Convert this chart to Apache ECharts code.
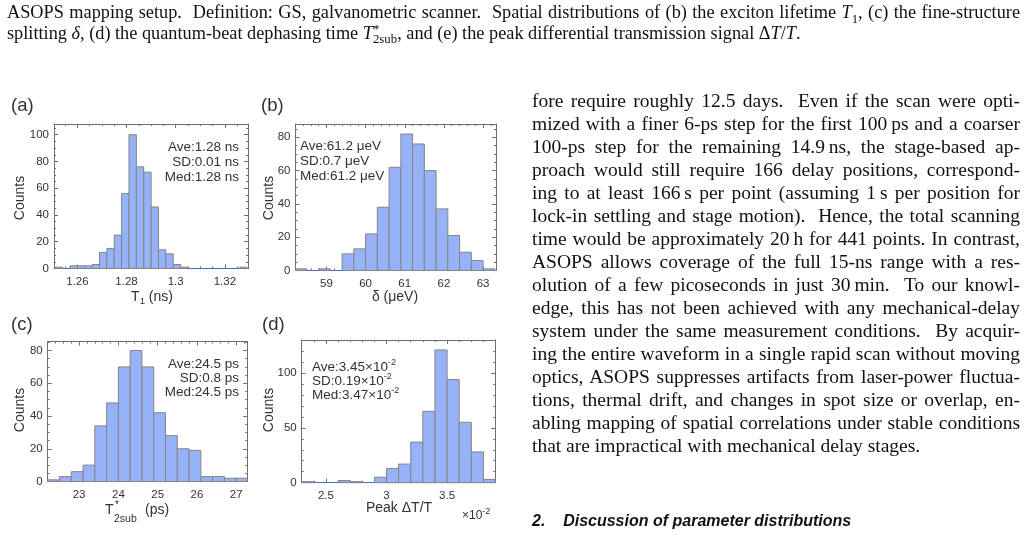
<!DOCTYPE html>
<html lang="en">
<head>
<meta charset="UTF-8"/>
<title>Parameter distributions</title>
<script src="https://cdn.jsdelivr.net/npm/echarts@6/dist/echarts.min.js"></script>
<style>
    body { margin: 0; background: #fff; }
    #page { position: relative; width: 1029px; height: 537px; overflow: hidden; background: #fff; }
    #main { position: absolute; left: 0; top: 0; width: 1029px; height: 537px; }
    .serif { font-family: "Liberation Serif", "Times New Roman", serif; color: #111; }
    .cap { position: absolute; left: 7px; width: 1013px; font-size: 18.3px; line-height: 21px; white-space: nowrap; }
    .cap.j { text-align: justify; text-align-last: justify; }
    #body { position: absolute; left: 532px; top: 89px; width: 488px; font-size: 19.5px; line-height: 23px; }
    #body div { text-align: justify; text-align-last: justify; white-space: nowrap; }
    #body div.last { text-align-last: left; }
    #sec { position: absolute; left: 532px; top: 512px; font-family: "Liberation Sans", Arial, sans-serif;
           font-weight: bold; font-style: italic; font-size: 16px; color: #111; white-space: pre; }
    .ss { display: inline-block; vertical-align: -0.35em; line-height: 0.8em; font-size: 0.7em; text-align: left; }
</style>
</head>
<body>
<div id="page">
    <div id="main"></div>

    <div class="serif cap j" style="top:2px;">ASOPS mapping setup.&nbsp; Definition: GS, galvanometric scanner.&nbsp; Spatial distributions of (b) the exciton lifetime <i>T</i><sub style="font-size:0.7em">1</sub>, (c) the fine-structure</div>
    <div class="serif cap" style="top:23px;">splitting <i>δ</i>, (d) the quantum-beat dephasing time <i>T</i><span class="ss">*<br/>2sub</span>, and (e) the peak differential transmission signal Δ<i>T</i>/<i>T</i>.</div>

    <div id="body" class="serif">
        <div>fore require roughly 12.5 days.&nbsp; Even if the scan were opti-</div>
        <div>mized with a finer 6-ps step for the first 100&#8201;ps and a coarser</div>
        <div>100-ps step for the remaining 14.9&#8201;ns, the stage-based ap-</div>
        <div>proach would still require 166 delay positions, correspond-</div>
        <div>ing to at least 166&#8201;s per point (assuming 1&#8201;s per position for</div>
        <div>lock-in settling and stage motion).&nbsp; Hence, the total scanning</div>
        <div>time would be approximately 20&#8201;h for 441 points. In contrast,</div>
        <div>ASOPS allows coverage of the full 15-ns range with a res-</div>
        <div>olution of a few picoseconds in just 30&#8201;min.&nbsp; To our knowl-</div>
        <div>edge, this has not been achieved with any mechanical-delay</div>
        <div>system under the same measurement conditions.&nbsp; By acquir-</div>
        <div>ing the entire waveform in a single rapid scan without moving</div>
        <div>optics, ASOPS suppresses artifacts from laser-power fluctua-</div>
        <div>tions, thermal drift, and changes in spot size or overlap, en-</div>
        <div>abling mapping of spatial correlations under stable conditions</div>
        <div class="last">that are impractical with mechanical delay stages.</div>
    </div>

    <div id="sec">2.    Discussion of parameter distributions</div>
</div>

<script type="text/javascript">

    // (a) exciton lifetime T1 (ns): bin left edges and counts
    var binsA = [1.251, 1.254, 1.257, 1.260, 1.263, 1.266, 1.269, 1.272, 1.275, 1.278, 1.281, 1.284, 1.287,
                 1.290, 1.293, 1.296, 1.299, 1.302, 1.305, 1.308, 1.311, 1.314, 1.317, 1.320, 1.323, 1.326];
    var countsA = [1, 0, 2, 2, 2, 3, 12, 15, 25, 56, 100, 76, 72, 46, 14, 11, 3, 1, 0, 0, 0, 0, 0, 0, 0, 1];
    var widthA = 0.003;
    var ticksAx = [1.26, 1.28, 1.30, 1.32];
    var labelsAx = ['1.26', '1.28', '1.3', '1.32'];
    var ticksAy = [0, 20, 40, 60, 80, 100];

    // (b) fine-structure splitting delta (ueV)
    var binsB = [58.2, 58.5, 58.8, 59.1, 59.4, 59.7, 60.0, 60.3, 60.6, 60.9, 61.2, 61.5, 61.8, 62.1, 62.4, 62.7, 63.0];
    var countsB = [1, 0, 1, 0, 10, 13, 22, 38, 62, 82, 76, 60, 37, 21, 11, 6, 1];
    var widthB = 0.3;
    var ticksBx = [59, 60, 61, 62, 63];
    var ticksBy = [0, 20, 40, 60, 80];

    // (c) dephasing time T2sub* (ps)
    var binsC = [22.2, 22.5, 22.8, 23.1, 23.4, 23.7, 24.0, 24.3, 24.6, 24.9, 25.2, 25.5, 25.8, 26.1, 26.4, 26.7, 27.0];
    var countsC = [1, 3, 6, 10, 34, 48, 70, 80, 70, 42, 28, 20, 19, 3, 3, 2, 2];
    var widthC = 0.3;
    var ticksCx = [23, 24, 25, 26, 27];
    var ticksCy = [0, 20, 40, 60, 80];

    // (d) peak dT/T (x 10^-2)
    var binsD = [2.3, 2.4, 2.5, 2.6, 2.7, 2.8, 2.9, 3.0, 3.1, 3.2, 3.3, 3.4, 3.5, 3.6, 3.7, 3.8];
    var countsD = [1, 0, 0, 2, 1, 0, 5, 13, 17, 37, 65, 121, 94, 55, 28, 3];
    var widthD = 0.1;
    var ticksDx = [2.5, 3, 3.5];
    var labelsDx = ['2.5', '3', '3.5'];
    var ticksDy = [0, 50, 100];

    var font = '"Liberation Sans", Arial, sans-serif';
    var frameColor = '#6f6f6f';
    var baseColor = '#4a69d2';
    var barFill = '#96b2f8';
    var barEdge = '#858585';
    var textColor = '#333';

    var panels = [
        { grid: [54, 124, 194, 144.5], x: [1.2505, 1.3294], y: [0, 108], xTicks: ticksAx, xLabels: labelsAx, xMinor: 0.005,
          yTicks: ticksAy, yMinor: 5, bins: binsA, counts: countsA, w: widthA },
        { grid: [295.5, 124, 200.5, 146.5], x: [58.21, 63.33], y: [0, 88], xTicks: ticksBx, xMinor: 0.2,
          yTicks: ticksBy, yMinor: 5, bins: binsB, counts: countsB, w: widthB },
        { grid: [47.7, 341.5, 199.5, 140], x: [22.2, 27.28], y: [0, 85.5], xTicks: ticksCx, xMinor: 0.2,
          yTicks: ticksCy, yMinor: 5, bins: binsC, counts: countsC, w: widthC },
        { grid: [301.7, 340, 193.5, 142.7], x: [2.3, 3.897], y: [0, 130], xTicks: ticksDx, xLabels: labelsDx, xMinor: 0.1,
          yTicks: ticksDy, yMinor: 10, bins: binsD, counts: countsD, w: widthD }
    ];

    function steps(lo, hi, step) {
        var out = [];
        for (var k = Math.ceil(lo / step - 1e-9); k * step <= hi + 1e-9; k++) out.push(+(k * step).toFixed(6));
        return out;
    }

    function axis(gi, pos, range, ticks, labels, len, lineColor) {
        return {
            type: 'value', gridIndex: gi, position: pos, min: range[0], max: range[1],
            axisLine: { show: !!lineColor, onZero: false, lineStyle: { color: lineColor || frameColor, width: 1 } },
            axisTick: { show: true, inside: true, length: len, customValues: ticks, lineStyle: { color: frameColor, width: 1 } },
            axisLabel: labels ? {
                show: true, customValues: ticks, color: textColor, fontFamily: font, fontSize: 11.5,
                margin: (pos === 'bottom' ? 7 : 5),
                formatter: function (v) {
                    for (var i = 0; i < ticks.length; i++) if (Math.abs(ticks[i] - v) < 1e-7) return labels[i];
                    return '';
                }
            } : { show: false },
            splitLine: { show: false }, minorTick: { show: false }
        };
    }

    var grids = [], xAxes = [], yAxes = [], series = [];

    panels.forEach(function (p, gi) {
        grids.push({ left: p.grid[0], top: p.grid[1], width: p.grid[2], height: p.grid[3],
                     containLabel: false, outerBoundsMode: 'none' });
        var xi = xAxes.length, yi = yAxes.length;
        var xLab = p.xLabels || p.xTicks.map(String);
        var yLab = p.yTicks.map(String);
        xAxes.push(axis(gi, 'bottom', p.x, p.xTicks, xLab, 4, baseColor));
        xAxes.push(axis(gi, 'bottom', p.x, steps(p.x[0], p.x[1], p.xMinor), null, 2, null));
        xAxes.push(axis(gi, 'top', p.x, p.xTicks, null, 4, frameColor));
        xAxes.push(axis(gi, 'top', p.x, steps(p.x[0], p.x[1], p.xMinor), null, 2, null));
        yAxes.push(axis(gi, 'left', p.y, p.yTicks, yLab, 4, frameColor));
        yAxes.push(axis(gi, 'left', p.y, steps(p.y[0], p.y[1], p.yMinor), null, 2, null));
        yAxes.push(axis(gi, 'right', p.y, p.yTicks, null, 4, frameColor));
        yAxes.push(axis(gi, 'right', p.y, steps(p.y[0], p.y[1], p.yMinor), null, 2, null));

        var data = p.bins.map(function (b, i) { return [b, +(b + p.w).toFixed(6), p.counts[i]]; });
        series.push({
            type: 'custom', xAxisIndex: xi, yAxisIndex: yi, data: data, silent: true,
            encode: { x: [0, 1], y: 2 },
            renderItem: function (params, api) {
                var c = api.value(2);
                if (!c) return null;
                var p0 = api.coord([api.value(0), c]);
                var p1 = api.coord([api.value(1), 0]);
                var cs = params.coordSys;
                var shape = echarts.graphic.clipRectByRect(
                    { x: p0[0], y: p0[1], width: p1[0] - p0[0], height: p1[1] - p0[1] },
                    { x: cs.x, y: cs.y, width: cs.width, height: cs.height });
                return shape && { type: 'rect', shape: shape,
                                  style: { fill: barFill, stroke: barEdge, lineWidth: 1 } };
            }
        });
    });

    function txt(x, y, text, opt) {
        opt = opt || {};
        return {
            type: 'text', x: x, y: y, rotation: opt.rot || 0, silent: true, z: 100,
            style: {
                text: text, fill: opt.color || textColor, font: (opt.size || 13.5) + 'px ' + font,
                align: opt.align || 'left', verticalAlign: 'middle',
                rich: {
                    n: { fontSize: opt.size || 13.5, fontFamily: font, lineHeight: 18, fill: textColor },
                    sup: { fontSize: 9, fontFamily: font, lineHeight: 11, verticalAlign: 'top', fill: textColor },
                    sub: { fontSize: 9.5, fontFamily: font, lineHeight: 11, verticalAlign: 'bottom', fill: textColor }
                }
            }
        };
    }

    var graphics = [
        txt(11, 106, '(a)', { size: 18.5 }), txt(261, 106, '(b)', { size: 18.5 }),
        txt(11, 325, '(c)', { size: 18.5 }), txt(262, 325, '(d)', { size: 18.5 }),

        txt(239, 147, 'Ave:1.28 ns', { align: 'right' }),
        txt(239, 162, 'SD:0.01 ns', { align: 'right' }),
        txt(239, 177, 'Med:1.28 ns', { align: 'right' }),

        txt(300, 146, 'Ave:61.2 μeV'), txt(300, 161, 'SD:0.7 μeV'), txt(300, 176, 'Med:61.2 μeV'),

        txt(239, 364, 'Ave:24.5 ps', { align: 'right' }),
        txt(239, 378, 'SD:0.8 ps', { align: 'right' }),
        txt(239, 392, 'Med:24.5 ps', { align: 'right' }),

        txt(312, 367, '{n|Ave:3.45×10}{sup|-2}'),
        txt(312, 381, '{n|SD:0.19×10}{sup|-2}'),
        txt(312, 395, '{n|Med:3.47×10}{sup|-2}'),

        txt(20, 198, 'Counts', { rot: Math.PI / 2, align: 'center', size: 14 }),
        txt(269, 198, 'Counts', { rot: Math.PI / 2, align: 'center', size: 14 }),
        txt(20, 410, 'Counts', { rot: Math.PI / 2, align: 'center', size: 14 }),
        txt(269, 410, 'Counts', { rot: Math.PI / 2, align: 'center', size: 14 }),

        txt(152, 297, '{n|T}{sub|1}{n| (ns)}', { align: 'center', size: 14 }),
        txt(395, 297, 'δ (μeV)', { align: 'center', size: 14 }),
        txt(105, 510, 'T', { size: 14 }), txt(115, 505, '*', { size: 10 }), txt(114, 519, '2sub', { size: 10.5 }),
        txt(145, 510, '(ps)', { size: 14 }),
        txt(399, 508, 'Peak ΔT/T', { align: 'center', size: 14 }),
        txt(462, 516, '{n|×10}{sup|-2}', { size: 12 })
    ];

    var myChart = echarts.init(document.getElementById('main'), null, { renderer: 'canvas' });
    myChart.setOption({
        animation: false,
        textStyle: { fontFamily: font },
        grid: grids,
        xAxis: xAxes,
        yAxis: yAxes,
        series: series,
        graphic: graphics
    });
</script>
</body>
</html>
